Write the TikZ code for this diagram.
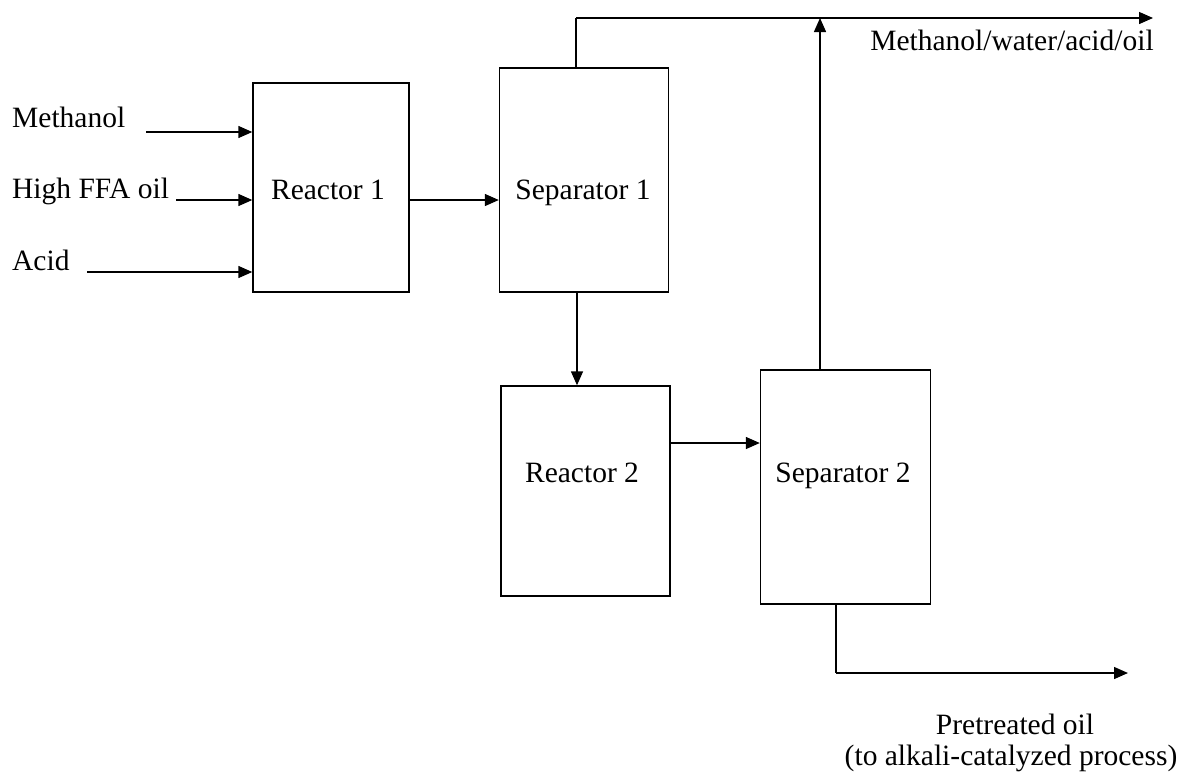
\documentclass[tikz,border=0pt]{standalone}
\usepackage{fontspec}
\setmainfont{Liberation Serif}
\usetikzlibrary{arrows.meta}
\begin{document}
\begin{tikzpicture}[x=1pt,y=-1pt,
  box/.style={draw, line width=1.4pt, rectangle, inner sep=0pt},
  conn/.style={line width=1.4pt},
  flow/.style={line width=1.4pt, -{Triangle[length=14pt,width=12pt]}},
  lbl/.style={font=\fontsize{29.5}{33}\selectfont, inner sep=0pt},
]
\useasboundingbox (0,0) rectangle (1191,777);

% boxes
\node[box, minimum width=156pt, minimum height=209pt] (R1) at (331,187.5) {};
\node[box, minimum width=169pt, minimum height=224pt] (S1) at (584,180) {};
\node[box, minimum width=169pt, minimum height=210pt] (R2) at (585.5,491) {};
\node[box, minimum width=170pt, minimum height=234pt] (S2) at (845.5,487) {};

% box texts
\node[lbl, anchor=base] (R1t) at (328,199) {Reactor 1};
\node[lbl, anchor=base] (S1t) at (583,199) {Separator 1};
\node[lbl, anchor=base] (R2t) at (582,482) {Reactor 2};
\node[lbl, anchor=base] (S2t) at (843,482) {Separator 2};

% input labels
\node[lbl, anchor=base west] (meth) at (12,127) {Methanol};
\node[lbl, anchor=base west] (ffa) at (12,198) {High FFA oil};
\node[lbl, anchor=base west] (acid) at (12,270) {Acid};

% output labels
\node[lbl, anchor=base] (topout) at (1012,50) {Methanol/water/acid/oil};
\node[lbl, anchor=base] (pre1) at (1015,734) {Pretreated oil};
\node[lbl, anchor=base] (pre2) at (1011,765) {(to alkali-catalyzed process)};

% coordinates for free ends
\coordinate (m0) at (146,132);
\coordinate (f0) at (176,200);
\coordinate (a0) at (87,272);
\coordinate (topL) at (576,18);
\coordinate (topR) at (1153,18);
\coordinate (botL) at (836,673);
\coordinate (botR) at (1128,673);

% inputs
\draw[flow] (m0) -- (m0 -| R1.west);
\draw[flow] (f0) -- (f0 -| R1.west);
\draw[flow] (a0) -- (a0 -| R1.west);

% reactor 1 -> separator 1
\draw[flow] (R1.east |- f0) -- (S1.west |- f0);

% separator 1 top -> output
\draw[conn] (S1.north -| topL) -- (topL);
\draw[flow] (topL) -- (topR);

% separator 1 -> reactor 2
\draw[flow] (S1.south -| 577,0) -- (R2.north -| 577,0);

% reactor 2 -> separator 2
\draw[flow] (R2.east |- 0,443) -- (S2.west |- 0,443);

% separator 2 top -> top line
\draw[flow] (S2.north -| 820,0) -- (820,18);

% separator 2 bottom -> pretreated oil
\draw[conn] (S2.south -| botL) -- (botL);
\draw[flow] (botL) -- (botR);
\end{tikzpicture}
\end{document}
